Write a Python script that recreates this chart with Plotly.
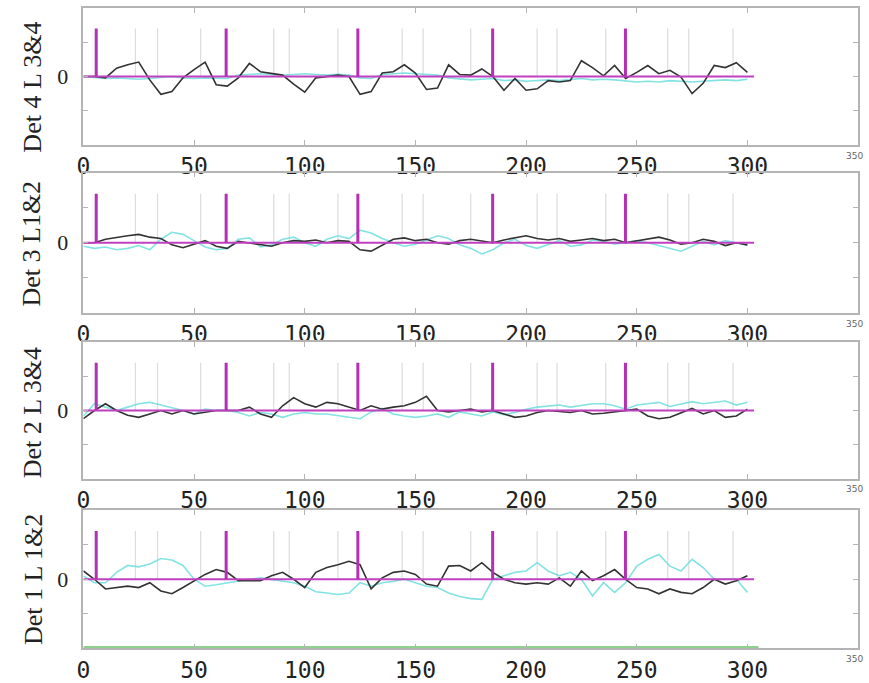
import plotly.graph_objects as go

# ---------------- data ----------------
x_grid = list(range(0, 301, 5))

det4_black = [0.0, 0.0, -0.02, 0.12, 0.17, 0.21, -0.05, -0.26, -0.22, -0.02, 0.1, 0.21, -0.12, -0.14, -0.02,
              0.19, 0.07, 0.05, 0.02, -0.11, -0.23, -0.02, 0.0, 0.02, 0.0, -0.26, -0.22, 0.05, 0.07, 0.17,
              0.05, -0.19, -0.17, 0.17, 0.03, 0.02, 0.11, 0.0, -0.2, -0.03, -0.2, -0.18, -0.06, -0.08, -0.06,
              0.23, 0.13, 0.01, 0.16, -0.03, 0.06, 0.16, 0.04, 0.09, -0.01, -0.25, -0.1, 0.16, 0.13, 0.2, 0.06]
det4_cyan = [0.0, -0.02, -0.03, -0.02, -0.03, -0.04, -0.03, -0.02, 0.0, -0.02, -0.03, -0.02, -0.02, -0.03, 0.02,
             0.03, 0.04, 0.03, 0.02, 0.03, 0.04, 0.03, 0.02, 0.03, 0.02, -0.02, -0.03, 0.03, 0.04, 0.05,
             0.04, 0.03, 0.02, -0.02, -0.04, -0.05, -0.04, -0.03, -0.06, -0.05, -0.07, -0.06, -0.05, -0.06, -0.04,
             -0.03, -0.05, -0.04, -0.05, -0.06, -0.08, -0.07, -0.08, -0.06, -0.07, -0.08, -0.07, -0.06, -0.05, -0.06, -0.04]

det3_black = [0.0, 0.0, 0.05, 0.08, 0.1, 0.12, 0.08, 0.06, -0.03, -0.07, -0.02, 0.03, -0.05, -0.08, 0.02,
              0.0, -0.03, -0.05, 0.0, 0.03, 0.02, 0.04, 0.0, 0.03, 0.02, -0.1, -0.12, -0.03, 0.05, 0.07,
              0.03, 0.05, 0.0, -0.02, 0.03, 0.05, 0.02, 0.0, 0.04, 0.07, 0.1, 0.06, 0.04, 0.06, 0.02,
              0.04, 0.06, 0.03, 0.05, 0.0, 0.03, 0.05, 0.08, 0.04, -0.02, 0.0, 0.05, 0.02, -0.04, 0.0, -0.03]
det3_cyan = [-0.05, -0.08, -0.06, -0.1, -0.08, -0.04, -0.1, 0.05, 0.15, 0.12, 0.03, -0.06, -0.1, -0.08, 0.05,
             0.07, -0.06, -0.03, 0.05, 0.08, 0.0, -0.05, 0.05, 0.1, 0.06, 0.18, 0.14, 0.06, 0.0, -0.05,
             -0.02, 0.04, 0.1, 0.06, -0.03, -0.08, -0.16, -0.1, 0.0, 0.05, -0.04, -0.08, -0.02, 0.03, -0.05,
             -0.03, 0.04, 0.02, -0.02, 0.0, 0.03, 0.0, -0.04, -0.08, -0.12, -0.05, 0.02, -0.03, 0.03, 0.0, -0.04]

det2_black = [-0.12, 0.0, 0.1, 0.0, -0.07, -0.1, -0.05, 0.0, -0.05, 0.0, -0.05, -0.02, 0.0, 0.0, 0.0,
              0.05, -0.05, -0.1, 0.07, 0.19, 0.1, 0.05, 0.12, 0.1, 0.05, 0.0, 0.07, 0.02, 0.05, 0.07,
              0.12, 0.21, 0.0, -0.02, 0.0, 0.02, -0.02, 0.0, -0.05, -0.1, -0.08, -0.03, 0.0, -0.02, -0.03,
              0.0, -0.05, -0.04, -0.02, 0.0, 0.02, -0.08, -0.12, -0.1, -0.03, 0.03, -0.05, 0.0, -0.1, -0.08, 0.02]
det2_cyan = [-0.08, 0.1, 0.05, 0.0, 0.05, 0.1, 0.12, 0.08, 0.05, 0.0, -0.05, 0.02, 0.0, 0.0, -0.03,
             -0.08, -0.03, -0.05, -0.1, -0.05, -0.03, -0.05, -0.05, -0.08, -0.1, -0.12, -0.02, 0.03, -0.05, -0.08,
             -0.1, -0.08, -0.05, -0.1, -0.02, -0.05, -0.08, -0.02, -0.06, -0.03, 0.02, 0.05, 0.06, 0.08, 0.05,
             0.08, 0.1, 0.1, 0.07, 0.02, 0.08, 0.1, 0.12, 0.06, 0.1, 0.13, 0.1, 0.12, 0.14, 0.08, 0.12]

det1_black = [0.12, 0.0, -0.14, -0.12, -0.1, -0.12, -0.05, -0.17, -0.21, -0.12, -0.02, 0.07, 0.14, 0.1, -0.02,
              -0.02, -0.02, 0.05, 0.1, 0.0, -0.12, 0.1, 0.17, 0.21, 0.26, 0.21, -0.14, 0.02, 0.1, 0.12,
              0.07, -0.07, -0.1, 0.19, 0.2, 0.12, 0.24, 0.1, 0.0, -0.05, -0.07, -0.05, -0.07, 0.02, -0.1,
              0.12, -0.02, 0.05, 0.14, 0.0, -0.12, -0.14, -0.21, -0.14, -0.19, -0.21, -0.12, 0.0, -0.07, -0.02, 0.05]
det1_cyan = [0.05, -0.05, -0.05, 0.1, 0.2, 0.18, 0.22, 0.3, 0.28, 0.2, 0.0, -0.1, -0.08, -0.05, -0.03,
             0.0, 0.02, 0.0, -0.02, -0.05, -0.1, -0.18, -0.2, -0.22, -0.2, -0.05, -0.1, -0.05, -0.03, 0.0,
             -0.05, -0.1, -0.12, -0.2, -0.25, -0.28, -0.29, 0.0, 0.05, 0.1, 0.12, 0.24, 0.12, 0.05, 0.1,
             0.0, -0.24, -0.05, -0.19, -0.05, 0.19, 0.29, 0.36, 0.19, 0.12, 0.29, 0.17, 0.0, 0.0, 0.0, -0.19]

panel_labels = ["Det 4 L 3&4", "Det 3 L1&2", "Det 2 L 3&4", "Det 1 L 1&2"]
black_series = [det4_black, det3_black, det2_black, det1_black]
cyan_series = [det4_cyan, det3_cyan, det2_cyan, det1_cyan]

main_spike_x = [5.8, 64.5, 124, 184.9, 244.9]
minor_spike_x = [23.5, 33.5, 53, 86, 93, 115, 144, 153.5, 175, 205, 214, 236, 264, 273.5, 293.5]
spike_height = 0.7
baseline_x = [0, 303]
green_x = [0, 305]
green_y = -0.985

x_tick_vals = [0, 50, 100, 150, 200, 250, 300]
x_tick_text = ["0", "50", "100", "150", "200", "250", "300"]
x_end_label = "350"

# ---------------- layout geometry ----------------
W, H = 869, 683
x_dom = [77 / W, 858 / W]
panel_px = [(8, 147), (175, 317), (347, 485), (517, 657)]
title_centers = [(26, 88), (25, 247), (26, 418), (26, 587)]

fig = go.Figure()


def spikes(xs, h):
    xx, yy = [], []
    for v in xs:
        xx += [v, v, None]
        yy += [0, h, None]
    return xx, yy


annotations = []
for i in range(4):
    xa = "x" if i == 0 else f"x{i + 1}"
    ya = "y" if i == 0 else f"y{i + 1}"
    gx, gy = spikes(minor_spike_x, spike_height)
    fig.add_trace(go.Scatter(x=gx, y=gy, mode="lines", line=dict(color="#dcdcdc", width=1.2),
                             xaxis=xa, yaxis=ya, showlegend=False, hoverinfo="skip"))
    fig.add_trace(go.Scatter(x=x_grid, y=cyan_series[i], mode="lines",
                             line=dict(color="#6fdede", width=1.6), opacity=0.85,
                             xaxis=xa, yaxis=ya, showlegend=False))
    fig.add_trace(go.Scatter(x=x_grid, y=black_series[i], mode="lines",
                             line=dict(color="#333333", width=1.6),
                             xaxis=xa, yaxis=ya, showlegend=False))
    fig.add_trace(go.Scatter(x=baseline_x, y=[0, 0], mode="lines",
                             line=dict(color="#c040c0", width=2),
                             xaxis=xa, yaxis=ya, showlegend=False))
    mx, my = spikes(main_spike_x, spike_height)
    fig.add_trace(go.Scatter(x=mx, y=my, mode="lines", line=dict(color="#b52fb5", width=3),
                             xaxis=xa, yaxis=ya, showlegend=False))
    if i == 3:
        fig.add_trace(go.Scatter(x=green_x, y=[green_y, green_y], mode="lines",
                                 line=dict(color="#8fd08f", width=2.5),
                                 xaxis=xa, yaxis=ya, showlegend=False))

    top, bot = panel_px[i]
    ydom = [1 - bot / H, 1 - top / H]
    common = dict(showline=True, linecolor="#b4b4b4", linewidth=1.5, mirror="ticks",
                  ticks="inside", tickcolor="#b4b4b4", ticklen=5, showgrid=False, zeroline=False)
    fig.layout[f"xaxis{'' if i == 0 else i + 1}"] = dict(
        domain=x_dom, range=[0, 350], anchor=ya, tickvals=x_tick_vals, ticktext=x_tick_text,
        tickfont=dict(family="DejaVu Sans Mono", size=23, color="#222222"), **common)
    fig.layout[f"yaxis{'' if i == 0 else i + 1}"] = dict(
        domain=ydom, range=[-1, 1], anchor=xa, tickvals=[-0.5, 0, 0.5], ticktext=["", "0", ""],
        tickfont=dict(family="Liberation Serif", size=22, color="#222222"), ticklabelstandoff=9, **common)

    tx, ty = title_centers[i]
    annotations.append(dict(text=panel_labels[i], x=tx / W, y=1 - ty / H, xref="paper", yref="paper",
                            showarrow=False, textangle=-90, xanchor="center", yanchor="middle",
                            font=dict(family="Liberation Serif", size=26, color="#222222")))
    annotations.append(dict(text=x_end_label, x=350, xref=xa, y=1 - (bot + 11) / H, yref="paper",
                            showarrow=False, xanchor="center", yanchor="middle", xshift=-4,
                            font=dict(family="DejaVu Sans", size=9, color="#666666")))

fig.update_layout(width=W, height=H, margin=dict(l=0, r=0, t=0, b=0),
                  paper_bgcolor="white", plot_bgcolor="white", annotations=annotations)

fig.write_html("out.html")
